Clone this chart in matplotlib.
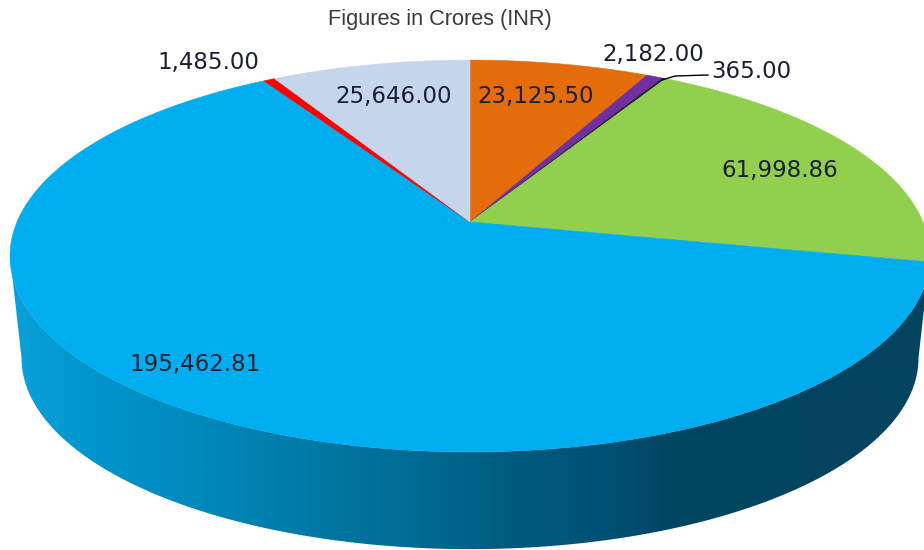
import numpy as np
import matplotlib
matplotlib.use('Agg')
import matplotlib.pyplot as plt
from matplotlib.colors import LinearSegmentedColormap
from matplotlib.patches import Polygon

values = [23125.50, 2182.00, 365.00, 61998.86, 195462.81, 1485.00, 25646.00]
colors = ['#E46C0A', '#7030A0', '#1E1A28', '#92CF4E', '#00AEEF', '#FF0000', '#C4D5EC']
title = 'Figures in Crores (INR)'

# label centres in pixels
label_x = [536, 653, 751, 780, 195, 208, 394]
label_y = [97, 55, 71, 171, 364, 63, 97]

# perspective of the pie top
cx, cy = 470, 222
A, H, K = 453, 190, 0.1735
depth, shrink = 103, 0.975


def project(theta, scale=1.0, dy=0.0):
    # theta clockwise from 12 o'clock, degrees
    t = np.radians(theta)
    x, y = np.sin(t), np.cos(t)
    w = 1 + K * y
    return cx + scale * A * x / w, cy + dy - scale * H * y / w


fig = plt.figure(figsize=(9.24, 5.5), dpi=100)
ax = fig.add_axes([0, 0, 1, 1])

# side wall: lower rim of the top, then lower rim of the bottom
th = np.linspace(100, 260, 300)
xt, yt = project(th)
xb, yb = project(th, shrink, depth)
wall = np.vstack([np.column_stack([xt, yt]), np.column_stack([xb, yb])[::-1]])
side = Polygon(wall, closed=True, facecolor='none', edgecolor='none')
ax.add_patch(side)

stops = [(0.0, '#0AA0DA'), (0.10, '#0094CA'), (0.22, '#0087B8'), (0.33, '#0079A5'),
         (0.44, '#006B92'), (0.55, '#005A7E'), (0.65, '#005173'), (0.72, '#024662'),
         (1.0, '#02445F')]
cmap = LinearSegmentedColormap.from_list('wall', stops)
grad = np.linspace(0, 1, 512).reshape(1, -1)
im = ax.imshow(grad, cmap=cmap, extent=[10, 930, 550, 200], aspect='auto', zorder=1)
im.set_clip_path(side)
ax.set_xlim(0, 924)
ax.set_ylim(550, 0)
ax.axis('off')

# top slices
ends = np.cumsum(values) / np.sum(values) * 360
starts = np.r_[0, ends[:-1]]
for s, e, c in zip(starts, ends, colors):
    a = np.linspace(s, e, max(int(e - s) * 4, 8))
    x, y = project(a)
    pts = np.column_stack([np.r_[cx, x], np.r_[cy, y]])
    ax.add_patch(Polygon(pts, closed=True, facecolor=c, edgecolor=c, linewidth=0.4, zorder=2))

for v, x, y in zip(values, label_x, label_y):
    ax.text(x, y, f'{v:,.2f}', ha='center', va='center', fontsize=16.5,
            color='#1B1F33', family='DejaVu Sans', zorder=4)

# leader for the small slice
ax.plot([662, 675, 708], [80, 76, 75], color='black', lw=1, zorder=3)

ax.text(440, 19.5, title, ha='center', va='center', fontsize=15.7,
        color='#3A3A3A', family='Liberation Sans', zorder=4)

fig.savefig('out.png', dpi=100)
